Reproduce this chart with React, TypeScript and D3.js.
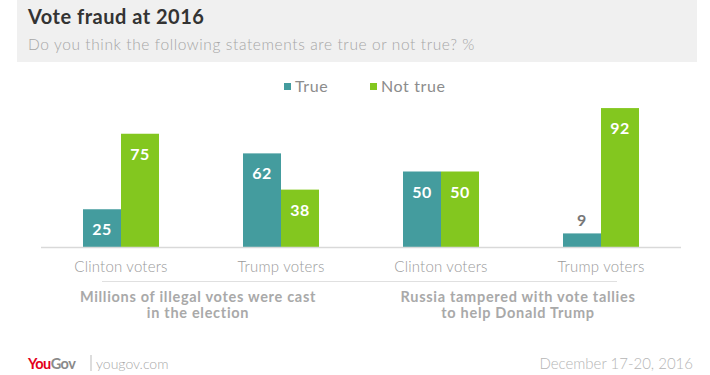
import React from "react";
import * as d3 from "d3";

const categories = ["Clinton voters", "Trump voters", "Clinton voters ", "Trump voters "];
const seriesNames = ["True", "Not true"];
const trueValues = [25, 62, 50, 9];
const notTrueValues = [75, 38, 50, 92];
const groupLabels = [
  ["Millions of illegal votes were cast", "in the election"],
  ["Russia tampered with vote tallies", "to help Donald Trump"],
];
const colors = ["#449c9e", "#83c71f"];

const W = 710;
const H = 375;
const FONT = "Lato, 'Open Sans', sans-serif";

export default function App() {
  const x0 = d3.scaleBand<string>().domain(categories).range([41, 681]).paddingInner(0.525).paddingOuter(0.2625);
  const x1 = d3.scaleBand<string>().domain(seriesNames).range([0, x0.bandwidth()]).padding(0);
  const y = d3.scaleLinear().domain([0, 100]).range([247, 96]);
  const values = [trueValues, notTrueValues];

  const groupCenters = [0, 1].map((g) => {
    const a = x0(categories[g * 2])!;
    const b = x0(categories[g * 2 + 1])! + x0.bandwidth();
    return (a + b) / 2 - 3;
  });

  return (
    <svg width={W} height={H} style={{ position: "absolute", left: 0, top: 0, display: "block", background: "#fff" }} fontFamily={FONT}>
      <rect x={17} y={0} width={680} height={62} fill="#f0f0f0" />
      <text x={28} y={24} fontSize={20} fontWeight={700} fill="#333" letterSpacing={0.5}>Vote fraud at 2016</text>
      <text x={28} y={50} fontSize={15.5} fontWeight={300} fill="#a6a6a6" letterSpacing={0.6}>Do you think the following statements are true or not true? %</text>

      {seriesNames.map((s, i) => {
        const lx = i === 0 ? 284 : 370;
        return (
          <g key={s}>
            <rect x={lx} y={83} width={7} height={7} fill={colors[i]} />
            <text x={lx + 11} y={91.5} fontSize={16} fontWeight={400} fill="#8c8c8c" letterSpacing={0.6}>{s}</text>
          </g>
        );
      })}

      {categories.map((c, ci) => (
        <g key={c} transform={`translate(${x0(c)},0)`}>
          {seriesNames.map((s, si) => {
            const v = values[si][ci];
            const bx = x1(s)!;
            const top = y(v);
            const h = y(0) - top;
            const inside = h > 35;
            return (
              <g key={s}>
                <rect x={bx} y={top} width={x1.bandwidth()} height={h} fill={colors[si]} />
                <text
                  x={bx + x1.bandwidth() / 2}
                  y={inside ? top + 26 : top - 7}
                  textAnchor="middle"
                  fontSize={16}
                  fontWeight={700}
                  fill={inside ? "#fff" : "#777"}
                  letterSpacing={0.5}
                >
                  {v}
                </text>
              </g>
            );
          })}
          <text x={x0.bandwidth() / 2} y={272} textAnchor="middle" fontSize={15} fontWeight={300} fill="#9a9a9a" letterSpacing={0.2}>
            {c.trim()}
          </text>
        </g>
      ))}

      <line x1={41} x2={681} y1={247.5} y2={247.5} stroke="#d9d9d9" strokeWidth={1.5} />
      <line x1={102} x2={617} y1={281.5} y2={281.5} stroke="#e0e0e0" strokeWidth={1.2} />

      {groupLabels.map((lines, gi) => (
        <text key={gi} textAnchor="middle" fontSize={14.5} fontWeight={700} fill="#a9a9a9" letterSpacing={0.7}>
          {lines.map((l, li) => (
            <tspan key={li} x={groupCenters[gi]} y={302 + li * 16}>{l}</tspan>
          ))}
        </text>
      ))}

      <text x={28} y={369} fontSize={14.5} fontWeight={700} letterSpacing={-0.5}>
        <tspan fill="#e3001b">You</tspan>
        <tspan fill="#8a8a8a">Gov</tspan>
      </text>
      <line x1={91} x2={91} y1={355} y2={371} stroke="#bbb" strokeWidth={1} />
      <text x={96} y={369} fontSize={14} fontWeight={300} fill="#a8a8a8">yougov.com</text>
      <text x={693} y={369} textAnchor="end" fontSize={15} fontWeight={300} fill="#b5b5b5">December 17-20, 2016</text>
    </svg>
  );
}
